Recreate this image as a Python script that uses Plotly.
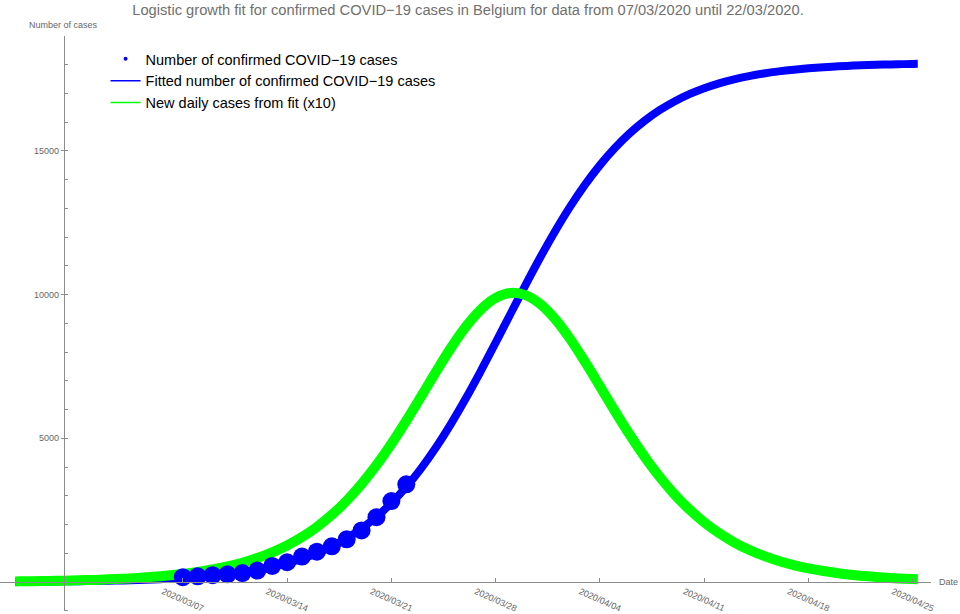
import pandas as pd
import plotly.graph_objects as go

# confirmed cases Belgium, 07/03 - 22/03
point_dates = pd.date_range("2020-03-07", "2020-03-22", freq="D")
confirmed = [169, 200, 239, 267, 314, 399, 559, 689, 886, 1058, 1243, 1486, 1795, 2257, 2815, 3401]

# fitted curve (one value per day)
curve_dates = ([pd.Timestamp("2020-02-24 18:00")]
               + list(pd.date_range("2020-02-25", "2020-04-25", freq="D"))
               + [pd.Timestamp("2020-04-25 08:00")])
fitted = [12, 12, 15, 19, 24, 30, 37, 47, 58, 73, 91, 114, 142, 177, 221, 275, 342, 426, 529, 656,
          813, 1004, 1238, 1521, 1862, 2269, 2750, 3311, 3956, 4688, 5503, 6391, 7339, 8327, 9332,
          10330, 11296, 12210, 13056, 13821, 14501, 15096, 15608, 16043, 16410, 16715, 16968, 17175,
          17345, 17483, 17596, 17687, 17760, 17819, 17867, 17905, 17936, 17961, 17980, 17996, 18009,
          18019, 18022]
new_daily_x10 = [23, 25, 31, 38, 48, 60, 75, 93, 116, 145, 181, 226, 282, 351, 437, 543, 673, 835,
                 1032, 1273, 1565, 1917, 2337, 2832, 3409, 4068, 4805, 5610, 6459, 7318, 8144, 8882,
                 9478, 9881, 10053, 9979, 9665, 9141, 8453, 7655, 6803, 5946, 5120, 4354, 3662, 3053,
                 2526, 2077, 1699, 1383, 1123, 909, 734, 592, 476, 383, 308, 247, 198, 159, 127, 102, 95]

x_ticks = ["2020-03-07", "2020-03-14", "2020-03-21", "2020-03-28", "2020-04-04", "2020-04-11",
           "2020-04-18", "2020-04-25"]
y_ticks = [5000, 10000, 15000]

FONT = "Liberation Sans, Arial, sans-serif"
GREY = "#666666"
AXIS = "#8c8c8c"

fig = go.Figure()

fig.add_trace(go.Scatter(x=curve_dates, y=fitted, mode="lines",
                         line=dict(color="#0000ff", width=8, shape="spline"),
                         showlegend=False, hoverinfo="skip"))
fig.add_trace(go.Scatter(x=curve_dates, y=new_daily_x10, mode="lines",
                         line=dict(color="#00ff00", width=10, shape="spline"),
                         showlegend=False, hoverinfo="skip"))
fig.add_trace(go.Scatter(x=point_dates, y=confirmed, mode="markers",
                         marker=dict(color="#0000ff", size=18, line=dict(width=0)),
                         showlegend=False))

# legend entries (small symbols like the original)
fig.add_trace(go.Scatter(x=[None], y=[None], mode="markers", marker=dict(color="#0000ff", size=4),
                         name="Number of confirmed COVID\u221219 cases"))
fig.add_trace(go.Scatter(x=[None], y=[None], mode="lines", line=dict(color="#0000ff", width=1.5),
                         name="Fitted number of confirmed COVID\u221219 cases"))
fig.add_trace(go.Scatter(x=[None], y=[None], mode="lines", line=dict(color="#00ff00", width=1.5),
                         name="New daily cases from fit (x10)"))

fig.update_layout(
    width=960, height=614,
    margin=dict(l=0, r=0, t=0, b=0),
    plot_bgcolor="white", paper_bgcolor="white",
    font=dict(family=FONT, color=GREY),
    title=dict(text="Logistic growth fit for confirmed COVID\u221219 cases in Belgium for data from "
                    "07/03/2020 until 22/03/2020.",
               x=468 / 960, xanchor="center", y=1 - 10 / 614, yanchor="middle",
               font=dict(size=14.7, color="#707070", family=FONT)),
    legend=dict(x=106 / 960, y=1 - 43 / 614, xanchor="left", yanchor="top",
                font=dict(size=14.5, color="black", family=FONT), bgcolor="rgba(0,0,0,0)",
                tracegroupgap=0),
    showlegend=True,
)

fig.update_xaxes(
    type="date", domain=[0, 935 / 960],
    range=["2020-02-23 17:31", "2020-04-26 05:27"],
    anchor="free", position=(614 - 583) / 614,
    showgrid=False, zeroline=False, showline=True, linecolor=AXIS, linewidth=1,
    tickvals=x_ticks, tickformat="%Y/%m/%d",
    ticks="inside", ticklen=4, tickcolor=AXIS, tickangle=24, ticklabelshift=-20,
    tickfont=dict(size=9, color=GREY, family=FONT),
)
fig.update_yaxes(
    domain=[2 / 614, 1 - 36 / 614],
    range=[-1007, 18993],
    anchor="free", position=64 / 960,
    showgrid=False, zeroline=False, showline=True, linecolor=AXIS, linewidth=1,
    tickvals=y_ticks, tickformat="d", ticks="outside", ticklen=3, tickcolor=AXIS,
    tickfont=dict(size=9, color=GREY, family=FONT),
    minor=dict(dtick=1000, ticks="inside", ticklen=3, tickcolor=AXIS),
)

fig.add_annotation(text="Number of cases", xref="paper", yref="paper", x=63.5 / 960, y=1 - 25 / 614,
                   xanchor="center", yanchor="middle", showarrow=False,
                   font=dict(size=9, color=GREY, family=FONT))
fig.add_annotation(text="Date", xref="paper", yref="paper", x=941 / 960, y=(614 - 583) / 614,
                   xanchor="left", yanchor="middle", showarrow=False,
                   font=dict(size=9, color=GREY, family=FONT))

# the page's default 8px body margin would shift the figure
fig.write_html("out.html", config={"displayModeBar": False},
               post_script="document.body.style.margin='0';")
